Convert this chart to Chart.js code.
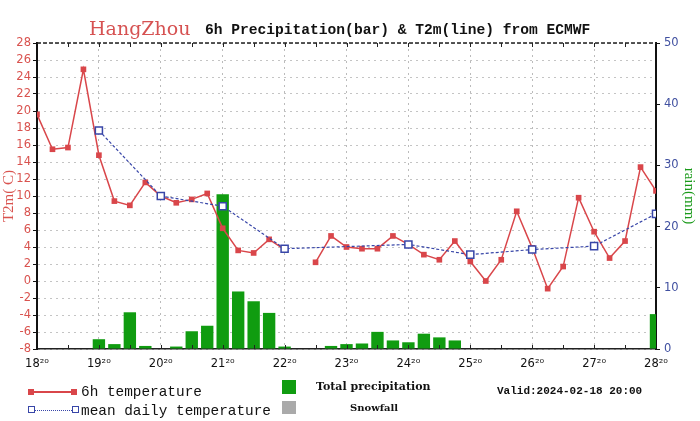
<!DOCTYPE html>
<html>
<head>
<meta charset="utf-8">
<script src="https://cdn.jsdelivr.net/npm/chart.js@4.4.0/dist/chart.umd.min.js"></script>
<style>
  body { margin: 0; background: #fff; }
  #wrap { position: relative; width: 700px; height: 421px; background: #fff; overflow: hidden; }
  #c { position: absolute; left: 0; top: 0; }
  .t { position: absolute; white-space: nowrap; line-height: 1; }
  .city { font-family: "DejaVu Serif"; font-size: 19px; color: #d65252; }
  .sub { font-family: "Liberation Mono"; font-weight: bold; font-size: 14.6px; color: #111; }
  .leg { font-family: "Liberation Mono"; font-size: 14.4px; color: #111; }
  .legb { font-family: "DejaVu Serif"; font-weight: bold; font-size: 10px; color: #111; }
  .valid { font-family: "Liberation Mono"; font-weight: bold; font-size: 11px; color: #111; }
  .box { position: absolute; }
</style>
</head>
<body>
<div id="wrap">
  <canvas id="c" width="700" height="421"></canvas>

  <div class="t city" style="left:89px; top:19px;">HangZhou</div>
  <div class="t sub" style="left:205px; top:23px;">6h Precipitation(bar) &amp; T2m(line) from ECMWF</div>

  <div class="box" style="left:30px; top:391px; width:45px; height:1.5px; background:#d9464a;"></div>
  <div class="box" style="left:28px; top:389px; width:6px; height:6px; background:#d9464a;"></div>
  <div class="box" style="left:71px; top:389px; width:6px; height:6px; background:#d9464a;"></div>
  <div class="t leg" style="left:81px; top:385px;">6h temperature</div>

  <div class="box" style="left:32px; top:410px; width:42px; border-top:1.2px dotted #3846a8;"></div>
  <div class="box" style="left:28px; top:406px; width:5px; height:5px; border:1.3px solid #3846a8; background:#fff;"></div>
  <div class="box" style="left:72px; top:406px; width:5px; height:5px; border:1.3px solid #3846a8; background:#fff;"></div>
  <div class="t leg" style="left:81px; top:404px;">mean daily temperature</div>

  <div class="box" style="left:282px; top:380px; width:14px; height:14px; background:#109c10;"></div>
  <div class="box" style="left:282px; top:401px; width:14px; height:13px; background:#aaaaaa;"></div>
  <div class="t legb" style="left:316px; top:381px; font-size:11px;">Total precipitation</div>
  <div class="t legb" style="left:350px; top:403px;">Snowfall</div>
  <div class="t valid" style="left:497px; top:386px;">Valid:2024-02-18 20:00</div>
</div>

<script>
// hours after 18th 20:00, one step per 6h
const hours = [0, 6, 12, 18, 24, 30, 36, 42, 48, 54, 60, 66, 72, 78, 84, 90, 96, 102, 108, 114,
               120, 126, 132, 138, 144, 150, 156, 162, 168, 174, 180, 186, 192, 198, 204, 210, 216, 222, 228, 234, 240];

// 6h temperature (C)
const temp6h = [19.6, 15.5, 15.7, 24.9, 14.8, 9.4, 8.9, 11.6, 10.0, 9.2, 9.6, 10.3, 6.2, 3.6, 3.3, 4.9, 3.7, null, 2.2, 5.3,
                4.0, 3.8, 3.8, 5.3, 4.3, 3.1, 2.5, 4.7, 2.3, 0.0, 2.5, 8.2, 3.9, -0.9, 1.7, 9.8, 5.8, 2.7, 4.7, 13.4, 10.6];

// 6h total precipitation (mm)
const precip = [0, 0, 0, 0, 1.6, 0.8, 6.0, 0.5, 0, 0.4, 2.9, 3.8, 25.3, 9.4, 7.8, 5.9, 0.4, 0, 0, 0.5,
                0.8, 0.9, 2.8, 1.4, 1.1, 2.5, 1.9, 1.4, 0, 0, 0, 0, 0, 0, 0, 0, 0, 0, 0, 0, 5.7];

// daily mean temperature, one per day at 20:00
const dayHours = [0, 24, 48, 72, 96, 120, 144, 168, 192, 216, 240];
const dailyMean = [null, 17.7, 10.0, 8.8, 3.8, null, 4.3, 3.1, 3.7, 4.1, 7.9];
const dayLabels = ['18²⁰', '19²⁰', '20²⁰', '21²⁰', '22²⁰', '23²⁰', '24²⁰', '25²⁰', '26²⁰', '27²⁰', '28²⁰'];

const rojo = '#d9464a';
const azul = '#3846a8';

// dashed top frame + small 12h ticks on top and bottom
const cerco = {
    id: 'cerco',
    afterDraw(chart) {
        const {ctx, chartArea: a, scales: {x}} = chart;
        ctx.save();
        ctx.strokeStyle = '#222';
        ctx.lineWidth = 1.5;
        ctx.setLineDash([4, 2]);
        ctx.beginPath();
        ctx.moveTo(a.left, a.top);
        ctx.lineTo(a.right, a.top);
        ctx.stroke();
        ctx.setLineDash([]);
        ctx.lineWidth = 1;
        for (let h = 12; h < 240; h += 12) {
            const px = Math.round(x.getPixelForValue(h)) + 0.5;
            ctx.beginPath();
            ctx.moveTo(px, a.top);
            ctx.lineTo(px, a.top + 4);
            ctx.moveTo(px, a.bottom);
            ctx.lineTo(px, a.bottom - 4);
            ctx.stroke();
        }
        ctx.restore();
    }
};

Chart.defaults.font.family = 'DejaVu Sans';

const config = {
    type: 'line',
    data: {
        datasets: [{
            type: 'bar',
            label: 'Total precipitation',
            data: hours.map((h, i) => ({x: h, y: precip[i]})),
            yAxisID: 'y1',
            backgroundColor: '#109c10',
            barPercentage: 0.8,
            categoryPercentage: 1,
            order: 3
        }, {
            label: '6h temperature',
            data: hours.map((h, i) => ({x: h, y: temp6h[i]})),
            yAxisID: 'y',
            borderColor: rojo,
            borderWidth: 1.5,
            pointStyle: 'rect',
            pointRadius: 4,
            pointBackgroundColor: rojo,
            pointBorderWidth: 0,
            spanGaps: false,
            order: 2
        }, {
            label: 'mean daily temperature',
            data: dayHours.map((h, i) => ({x: h, y: dailyMean[i]})),
            yAxisID: 'y',
            borderColor: azul,
            borderWidth: 1.2,
            borderDash: [3, 2],
            pointStyle: 'rect',
            pointRadius: 5,
            pointBackgroundColor: '#fff',
            pointBorderColor: azul,
            pointBorderWidth: 1.5,
            spanGaps: true,
            order: 1
        }]
    },
    options: {
        responsive: false,
        animation: false,
        layout: { padding: { top: 43, left: 0, right: 0, bottom: 0 } },
        plugins: {
            legend: { display: false },
            tooltip: { enabled: false },
            title: { display: false }
        },
        scales: {
            x: {
                type: 'linear',
                min: 0,
                max: 240,
                offset: false,
                afterFit(s) { s.height = 72; },
                ticks: {
                    stepSize: 24,
                    autoSkip: false,
                    maxRotation: 0,
                    padding: 8,
                    color: '#111',
                    font: { size: 11.5 },
                    callback: v => dayLabels[v / 24]
                },
                grid: { color: '#bbb', drawTicks: false, offset: false },
                border: { color: '#222', width: 1.5, dash: [2, 4] }
            },
            y: {
                position: 'left',
                min: -8,
                max: 28,
                afterFit(s) { s.width = 37; },
                ticks: { stepSize: 2, color: '#d9534f', font: { size: 11.5 }, padding: 2 },
                grid: { color: '#c4c4c4', tickColor: '#111', tickLength: 4 },
                border: { color: '#111', width: 2, dash: [2, 4] },
                title: {
                    display: true,
                    text: 'T2m( C)',
                    color: '#d9534f',
                    font: { family: 'Liberation Serif', size: 15 },
                    padding: 0
                }
            },
            y1: {
                position: 'right',
                min: 0,
                max: 50,
                afterFit(s) { s.width = 44; },
                ticks: { stepSize: 10, color: '#4050a0', font: { size: 11.5 }, padding: 4 },
                grid: { drawOnChartArea: false, tickColor: '#111', tickLength: 4 },
                border: { color: '#111', width: 2 },
                title: {
                    display: true,
                    text: 'rain(mm)',
                    color: '#1a9a1a',
                    font: { family: 'Liberation Serif', size: 15 },
                    padding: 2
                }
            }
        }
    },
    plugins: [cerco]
};

const context = document.getElementById('c').getContext('2d');
const grafico = new Chart(context, config);
</script>
</body>
</html>
